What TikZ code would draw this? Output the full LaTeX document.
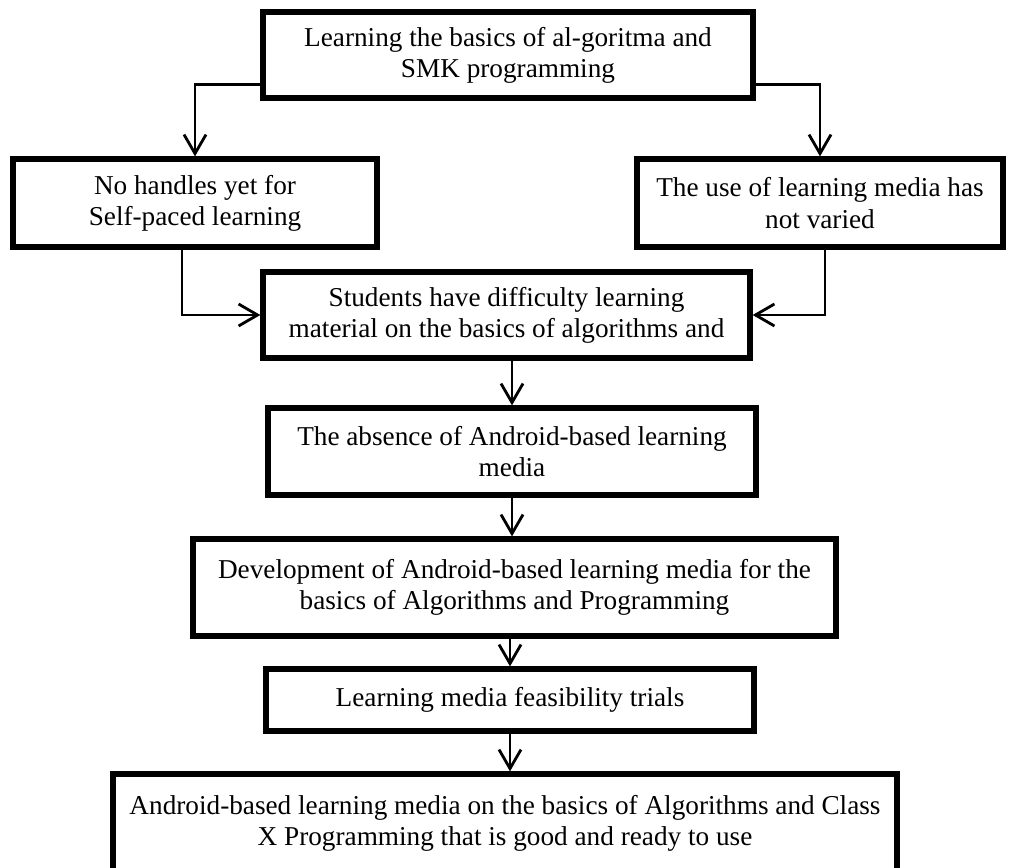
\documentclass[tikz,border=0pt]{standalone}
\usepackage{fontspec}
\setmainfont{Liberation Serif}
\usetikzlibrary{arrows.meta,positioning}

\begin{document}
\begin{tikzpicture}[x=0.02cm,y=-0.02cm,
    box/.style={draw,line width=3pt,inner sep=0pt,align=center,
      font=\fontsize{15.5}{17.8}\selectfont},
    arr/.style={line width=1.6pt,
      -{Straight Barb[length=3.8mm,width=4.4mm,line width=1.6pt]}}]
    \def\px{0.02cm}
    \useasboundingbox (0,0) rectangle (1011,868);

    % boxes
    \node[box,minimum width=490*\px,minimum height=86*\px] (basics) at (508,55)
      {Learning the basics of al-goritma and\\SMK programming};
    \node[box,minimum width=364*\px,minimum height=88*\px] (nohandle) at (195,203)
      {No handles yet for\\Self-paced learning};
    \node[box,minimum width=366*\px,minimum height=88*\px] (usemedia) at (820,203)
      {The use of learning media has\\not varied};
    \node[box,minimum width=487*\px,minimum height=86*\px] (students) at (506.5,315)
      {Students have difficulty learning\\material on the basics of algorithms and};
    \node[box,minimum width=488*\px,minimum height=87*\px] (absence) at (512,451.5)
      {The absence of Android-based learning\\media};
    \node[box,minimum width=643*\px,minimum height=97*\px] (develop) at (514.5,587.5)
      {Development of Android-based learning media for the\\basics of Algorithms and Programming};
    \node[box,minimum width=488*\px,minimum height=62*\px] (trials) at (510,700)
      {Learning media feasibility trials};
    \node[box,minimum width=784*\px,minimum height=99*\px] (result) at (505,823.5)
      {Android-based learning media on the basics of Algorithms and Class\\X Programming that is good and ready to use};

    % connectors
    \draw[arr] ([yshift=16*\px]basics.south west) -| (nohandle.north);
    \draw[arr] ([yshift=16*\px]basics.south east) -| (usemedia.north);
    \draw[arr] ([xshift=-13*\px]nohandle.south) |- (students.west);
    \draw[arr] ([xshift=5*\px]usemedia.south) |- (students.east);
    \draw[arr] (absence.north |- students.south) -- (absence.north);
    \draw[arr] (absence.south) -- (absence.south |- develop.north);
    \draw[arr] (develop.south -| trials.north) -- (trials.north);
    \draw[arr] (trials.south) -- (trials.south |- result.north);
\end{tikzpicture}
\end{document}
